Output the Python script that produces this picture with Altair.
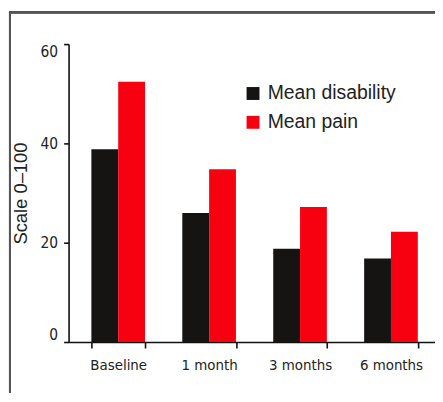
import altair as alt
import pandas as pd

categories = ["Baseline", "1 month", "3 months", "6 months"]
disability = [38.8, 26.0, 18.8, 16.8]
pain = [52.4, 34.8, 27.2, 22.2]
series = ["Mean disability", "Mean pain"]
colors = ["#161412", "#f7000f"]

rows = []
for c, d, p in zip(categories, disability, pain):
    rows.append({"time": c, "series": series[0], "value": d})
    rows.append({"time": c, "series": series[1], "value": p})
df = pd.DataFrame(rows)

cond = "DejaVu Sans Condensed, Liberation Sans Narrow, sans-serif"
reg = "Liberation Sans, Arial, Helvetica, sans-serif"

bars = alt.Chart(df).mark_bar().encode(
    x=alt.X("time:N", sort=categories,
            scale=alt.Scale(paddingInner=0.41, paddingOuter=0.22, align=0.57),
            axis=alt.Axis(title=None, labelAngle=0, labelFont=cond, labelFontSize=15,
                          labelColor="#222", domainColor="#111", domainWidth=1.6,
                          tickBand="extent", tickSize=6, tickWidth=1.6, tickColor="#111",
                          labelPadding=10)),
    xOffset=alt.XOffset("series:N", sort=series, scale=alt.Scale(paddingInner=0, paddingOuter=0)),
    y=alt.Y("value:Q", scale=alt.Scale(domain=[0, 60], nice=False),
            axis=alt.Axis(title="Scale 0\u2013100", values=[0, 20, 40, 60], grid=False,
                          labelFont=cond, labelFontSize=15.5, labelColor="#222",
                          labelFlush=True, domainColor="#111", domainWidth=1.6,
                          tickSize=5, tickWidth=1.6, tickColor="#111", labelPadding=6,
                          titleFont=reg, titleFontSize=18.5, titleFontWeight="normal",
                          titleColor="#222", titlePadding=10)),
    color=alt.Color("series:N", sort=series,
                    scale=alt.Scale(domain=series, range=colors),
                    legend=alt.Legend(title=None, orient="none", legendX=176, legendY=40,
                                      symbolType="square", symbolSize=169,
                                      symbolStrokeWidth=0, labelFont=reg, labelFontSize=19.5,
                                      labelColor="#222", rowPadding=8, labelOffset=5)),
)

frame_left = alt.Chart(df).mark_rule(color="#555", strokeWidth=2).encode(
    x=alt.value(-59), y=alt.value(-33), y2=alt.value(400))
frame_top = alt.Chart(df).mark_rule(color="#555", strokeWidth=2).encode(
    x=alt.value(-60), x2=alt.value(400), y=alt.value(-32))

chart = alt.layer(frame_left, frame_top, bars).properties(
    width=369, height=300,
    autosize=alt.AutoSizeParams(type="none"),
    padding={"left": 61, "top": 35, "right": 0, "bottom": 50},
).configure_view(stroke=None)

chart.save("out.html", embed_options={"renderer": "svg", "actions": False})
